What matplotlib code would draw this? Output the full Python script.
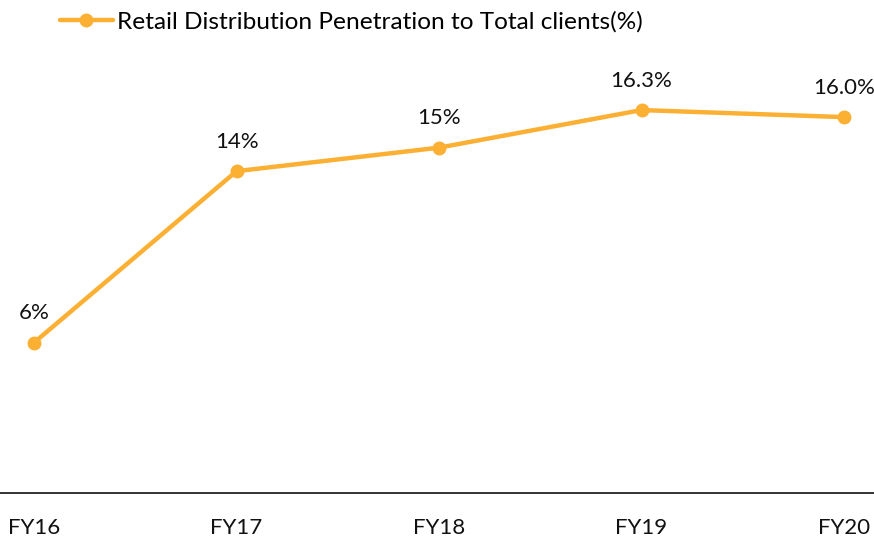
import matplotlib.pyplot as plt

# Data
years = ["FY16", "FY17", "FY18", "FY19", "FY20"]
penetration = [6.4, 13.7, 14.7, 16.3, 16.0]
point_labels = ["6%", "14%", "15%", "16.3%", "16.0%"]
series_name = "Retail Distribution Penetration to Total clients(%)"

orange = "#FBB034"
plt.rcParams['font.family'] = ['Lato', 'DejaVu Sans']

fig = plt.figure(figsize=(8.74, 5.37), dpi=100)
ax = fig.add_axes([0, 0.0819, 1, 0.875])

x = list(range(len(years)))
line, = ax.plot(x, penetration, color=orange, linewidth=3.2, marker='o',
                markersize=9, label=series_name, solid_capstyle='round')

for xi, yi, lab in zip(x, penetration, point_labels):
    ax.annotate(lab, (xi, yi), xytext=(0, 14), textcoords='offset points',
                ha='center', va='bottom', fontsize=16, color='#111111')

ax.set_xlim(-0.168, 4.148)
ax.set_ylim(0, 20)
ax.set_xticks(x)
ax.set_xticklabels(years, fontsize=16, color='#111111')
ax.tick_params(axis='x', length=0, pad=18)
ax.set_yticks([])
for side in ['top', 'left', 'right']:
    ax.spines[side].set_visible(False)
ax.spines['bottom'].set_color('#111111')
ax.spines['bottom'].set_linewidth(1.2)

ax.legend(handles=[line], loc='center left', bbox_to_anchor=(0.057, 1.002),
          frameon=False, fontsize=17.6, handlelength=2.2, handletextpad=0.15,
          borderaxespad=0)

fig.savefig("out.png", dpi=100)
